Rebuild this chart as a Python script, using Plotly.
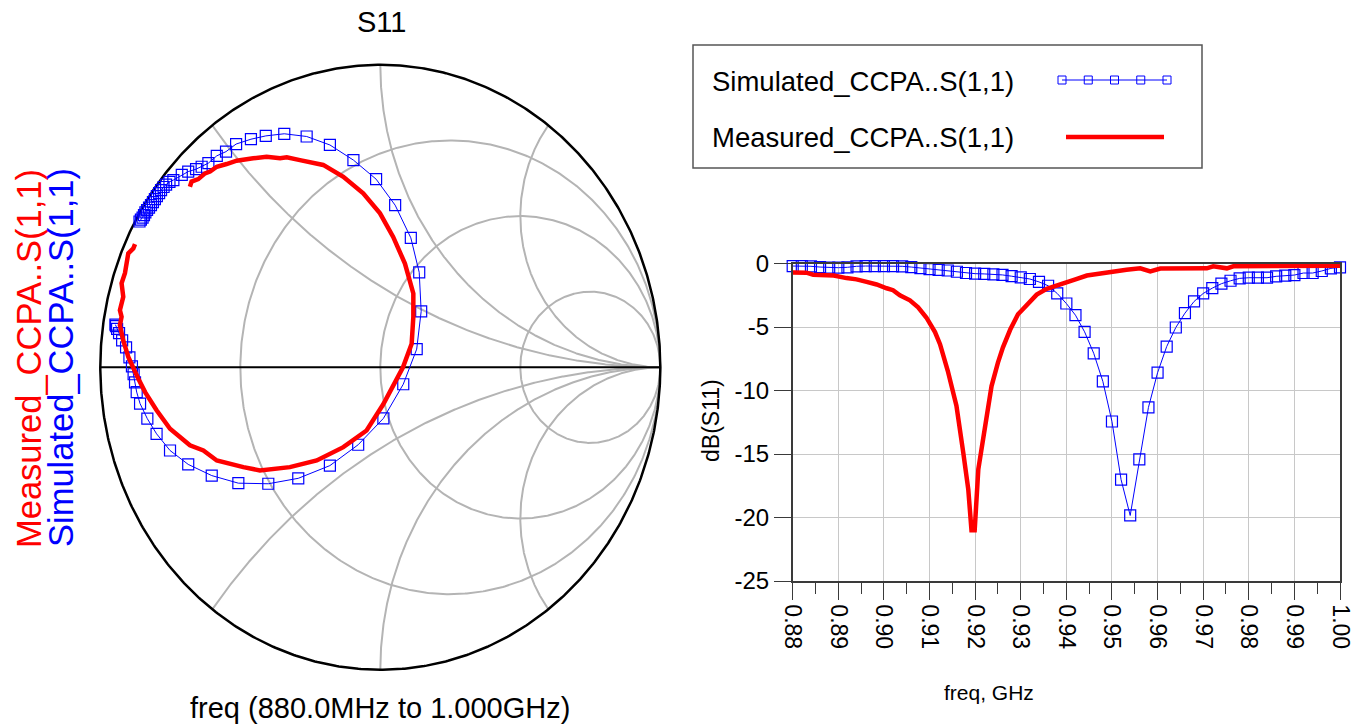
import numpy as np
import plotly.graph_objects as go

W, H = 1361, 728
FONT = "Liberation Sans, Arial, Helvetica, sans-serif"
BLUE = "#0000FF"
RED = "#FF0000"

# ---------------- data ----------------
# Simulated sweep, 0.880 .. 1.000 GHz in 2 MHz steps
sim_freq_ghz = [0.880, 0.882, 0.884, 0.886, 0.888, 0.890, 0.892, 0.894, 0.896, 0.898,
                0.900, 0.902, 0.904, 0.906, 0.908, 0.910, 0.912, 0.914, 0.916, 0.918,
                0.920, 0.922, 0.924, 0.926, 0.928, 0.930, 0.932, 0.934, 0.936, 0.938,
                0.940, 0.942, 0.944, 0.946, 0.948, 0.950, 0.952, 0.954, 0.956, 0.958,
                0.960, 0.962, 0.964, 0.966, 0.968, 0.970, 0.972, 0.974, 0.976, 0.978,
                0.980, 0.982, 0.984, 0.986, 0.988, 0.990, 0.992, 0.994, 0.996, 0.998,
                1.000]

# Simulated S11 as reflection coefficient (real / imaginary part)
sim_gamma_re = [-0.860, -0.855, -0.849, -0.844, -0.839, -0.833, -0.826, -0.819, -0.812, -0.805,
                -0.798, -0.790, -0.783, -0.774, -0.765, -0.753, -0.739, -0.709, -0.686, -0.658,
                -0.638, -0.614, -0.584, -0.551, -0.515, -0.462, -0.409, -0.343, -0.263, -0.180,
                -0.096, -0.015, 0.053, 0.109, 0.139, 0.146, 0.130, 0.082, 0.011, -0.079,
                -0.180, -0.293, -0.400, -0.507, -0.602, -0.686, -0.751, -0.799, -0.832, -0.858,
                -0.870, -0.876, -0.881, -0.887, -0.896, -0.908, -0.922, -0.933, -0.940, -0.944,
                -0.946]
sim_gamma_im = [0.482, 0.488, 0.495, 0.503, 0.512, 0.520, 0.528, 0.536, 0.546, 0.556,
                0.566, 0.576, 0.586, 0.596, 0.604, 0.613, 0.619, 0.636, 0.647, 0.655,
                0.663, 0.675, 0.699, 0.713, 0.738, 0.754, 0.765, 0.772, 0.763, 0.735,
                0.685, 0.622, 0.536, 0.428, 0.314, 0.185, 0.060, -0.056, -0.169, -0.256,
                -0.325, -0.367, -0.385, -0.383, -0.358, -0.321, -0.275, -0.220, -0.170, -0.120,
                -0.082, -0.050, -0.023, 0.003, 0.033, 0.066, 0.089, 0.113, 0.127, 0.136,
                0.141]

# Simulated |S11| in dB
sim_db = [-0.20, -0.20, -0.22, -0.28, -0.33, -0.33, -0.30, -0.22, -0.20, -0.20,
          -0.20, -0.20, -0.22, -0.28, -0.36, -0.45, -0.50, -0.55, -0.65, -0.75,
          -0.80, -0.82, -0.85, -0.90, -1.00, -1.10, -1.22, -1.45, -1.75, -2.36,
          -3.15, -4.07, -5.38, -7.07, -9.28, -12.44, -17.02, -19.84, -15.42, -11.33,
          -8.60, -6.54, -5.04, -3.91, -2.99, -2.36, -1.94, -1.59, -1.36, -1.17,
          -1.12, -1.12, -1.12, -1.01, -0.96, -0.91, -0.75, -0.75, -0.59, -0.38,
          -0.30]

# Measured S11 trace on the Smith chart (reflection coefficient)
meas_gamma_re = [-0.680, -0.674, -0.650, -0.626, -0.608, -0.584, -0.549, -0.513, -0.454, -0.406,
                 -0.358, -0.334, -0.287, -0.204, -0.132, -0.061, -0.001, 0.046, 0.088, 0.118,
                 0.118, 0.112, 0.081, 0.045, 0.010, -0.049, -0.132, -0.227, -0.323, -0.430,
                 -0.489, -0.584, -0.632, -0.680, -0.751, -0.799, -0.840, -0.865, -0.882, -0.900,
                 -0.918, -0.930, -0.924, -0.930, -0.918, -0.924, -0.912, -0.906, -0.900, -0.882,
                 -0.876]
meas_gamma_im = [0.597, 0.614, 0.622, 0.641, 0.647, 0.663, 0.672, 0.683, 0.691, 0.696,
                 0.691, 0.694, 0.685, 0.669, 0.630, 0.575, 0.509, 0.431, 0.343, 0.244,
                 0.167, 0.078, 0.000, -0.060, -0.123, -0.209, -0.264, -0.308, -0.330, -0.341,
                 -0.330, -0.308, -0.275, -0.258, -0.203, -0.142, -0.082, -0.036, 0.000, 0.034,
                 0.089, 0.139, 0.167, 0.189, 0.233, 0.278, 0.311, 0.344, 0.377, 0.393,
                 0.407]

# Measured |S11| in dB
meas_freq_ghz = [0.8800, 0.8830, 0.8845, 0.8890, 0.8918, 0.8940, 0.8962, 0.8984, 0.9006, 0.9020,
                 0.9035, 0.9057, 0.9075, 0.9093, 0.9112, 0.9123, 0.9140, 0.9159, 0.9174, 0.9185,
                 0.9192, 0.9199, 0.9207, 0.9221, 0.9236, 0.9250, 0.9261, 0.9277, 0.9294, 0.9302,
                 0.9320, 0.9335, 0.9357, 0.9380, 0.9401, 0.9420, 0.9445, 0.9470, 0.9496, 0.9532,
                 0.9562, 0.9584, 0.9606, 0.9650, 0.9708, 0.9722, 0.9752, 0.9766, 0.9850, 1.0000]
meas_db = [-0.70, -0.72, -0.88, -0.95, -1.15, -1.25, -1.45, -1.65, -1.95, -2.10,
           -2.50, -2.90, -3.45, -4.25, -5.40, -6.35, -8.45, -11.20, -14.90, -17.80,
           -21.00, -21.00, -16.20, -12.80, -9.65, -7.80, -6.60, -5.20, -4.00, -3.70,
           -2.95, -2.45, -2.00, -1.75, -1.50, -1.25, -0.95, -0.80, -0.70, -0.50,
           -0.38, -0.62, -0.40, -0.38, -0.38, -0.22, -0.38, -0.22, -0.20, -0.17]

# Smith chart grid values
resistance_circles = [1 / 3, 1, 3]
reactance_arcs = [0.5, 1, 2]

# dB axis ticks
db_ticks = [0, -5, -10, -15, -20, -25]
db_tick_labels = ["0", "-5", "-10", "-15", "-20", "-25"]


def px(x):
    return x / W


def py(y):
    return 1 - y / H


fig = go.Figure()

# ---------------- Smith chart grid ----------------
gx, gy = [], []
t = np.linspace(0, 2 * np.pi, 721)
for r in resistance_circles:
    c, rad = r / (1 + r), 1 / (1 + r)
    gx += list(c + rad * np.cos(t)) + [None]
    gy += list(rad * np.sin(t)) + [None]
rr = np.append(np.tan(np.linspace(0, np.pi / 2, 800)[:-1]), 1e7)
for xv in reactance_arcs:
    for sign in (1, -1):
        z = rr + 1j * sign * xv
        g = (z - 1) / (z + 1)
        gx += list(g.real) + [None]
        gy += list(g.imag) + [None]

fig.add_trace(go.Scatter(x=gx, y=gy, mode="lines", line=dict(color="#b4b4b4", width=2),
                         hoverinfo="skip", xaxis="x", yaxis="y"))
fig.add_trace(go.Scatter(x=[-1, 1], y=[0, 0], mode="lines", line=dict(color="black", width=2),
                         hoverinfo="skip", xaxis="x", yaxis="y"))
fig.add_trace(go.Scatter(x=np.cos(t), y=np.sin(t), mode="lines", line=dict(color="black", width=2.5),
                         hoverinfo="skip", xaxis="x", yaxis="y"))

# Smith chart curves
fig.add_trace(go.Scatter(x=sim_gamma_re, y=sim_gamma_im, mode="lines+markers",
                         line=dict(color=BLUE, width=1),
                         marker=dict(symbol="square-open", size=11, color=BLUE, line=dict(width=1.2)),
                         xaxis="x", yaxis="y", cliponaxis=False))
fig.add_trace(go.Scatter(x=meas_gamma_re, y=meas_gamma_im, mode="lines",
                         line=dict(color=RED, width=4.5), xaxis="x", yaxis="y"))

# ---------------- dB(S11) vs frequency ----------------
fig.add_trace(go.Scatter(x=sim_freq_ghz, y=sim_db, mode="lines+markers",
                         line=dict(color=BLUE, width=1),
                         marker=dict(symbol="square-open", size=11, color=BLUE, line=dict(width=1.2)),
                         xaxis="x2", yaxis="y2", cliponaxis=False))
fig.add_trace(go.Scatter(x=meas_freq_ghz, y=meas_db, mode="lines",
                         line=dict(color=RED, width=4.5), xaxis="x2", yaxis="y2", cliponaxis=False))

AX = "#3a3a3a"
GRID = "#c8c8c8"

fig.update_layout(
    width=W, height=H,
    margin=dict(l=0, r=0, t=0, b=0, pad=0, autoexpand=False),
    paper_bgcolor="white", plot_bgcolor="white",
    showlegend=False,
    font=dict(family=FONT, color="black"),
    xaxis=dict(domain=[0.06958, 0.48927], range=[-1.02, 1.02], visible=False,
               fixedrange=True, automargin=False),
    yaxis=dict(domain=[0.07165, 0.91929], range=[-1.02, 1.02], visible=False,
               fixedrange=True, automargin=False),
    xaxis2=dict(domain=[px(792.7), px(1340)], range=[0.88, 1.0], anchor="y2", automargin=False,
                tick0=0.88, dtick=0.01, tickformat=".2f", tickangle=90,
                ticks="outside", ticklen=17, tickcolor=AX, tickwidth=1.3,
                showline=True, mirror=True, linecolor=AX, linewidth=1.5,
                showgrid=True, gridcolor=GRID, gridwidth=1.3, zeroline=False,
                tickfont=dict(size=23, family=FONT, color="black"),
                minor=dict(tick0=0.885, dtick=0.01, ticks="outside", ticklen=11,
                           tickcolor=AX, tickwidth=1.3, showgrid=False)),
    yaxis2=dict(domain=[py(581), py(263.5)], range=[-25, 0], anchor="x2", automargin=False,
                tickvals=db_ticks, ticktext=db_tick_labels,
                ticks="outside", ticklen=17, tickcolor=AX, tickwidth=1.3,
                showline=True, mirror=True, linecolor=AX, linewidth=1.5,
                showgrid=True, gridcolor=GRID, gridwidth=1.3, zeroline=False,
                tickfont=dict(size=24, family=FONT, color="black")),
)

# ---------------- text ----------------
ann = [
    dict(text="S11", x=px(381), y=py(22), size=29, color="black", angle=0),
    dict(text="freq (880.0MHz to 1.000GHz)", x=px(380), y=py(708), size=29, color="black", angle=0),
    dict(text="Measured_CCPA..S(1,1)", x=px(29), y=py(359), size=34.5, color=RED, angle=-90),
    dict(text="Simulated_CCPA..S(1,1)", x=px(61), y=py(358), size=34.5, color=BLUE, angle=-90),
    dict(text="dB(S11)", x=px(711), y=py(421), size=23, color="black", angle=-90),
    dict(text="freq, GHz", x=px(989), y=py(692), size=21, color="black", angle=0),
]
for a in ann:
    fig.add_annotation(text=a["text"], x=a["x"], y=a["y"], xref="paper", yref="paper",
                       xanchor="center", yanchor="middle", showarrow=False, textangle=a["angle"],
                       font=dict(size=a["size"], color=a["color"], family=FONT))

# legend box
fig.add_shape(type="rect", xref="paper", yref="paper", x0=px(693), x1=px(1202), y0=py(168), y1=py(45),
              line=dict(color="#555555", width=1.5), fillcolor="rgba(0,0,0,0)")
for label, yy in (("Simulated_CCPA..S(1,1)", 81), ("Measured_CCPA..S(1,1)", 137)):
    fig.add_annotation(text=label, x=px(710), y=py(yy), xref="paper", yref="paper",
                       xanchor="left", yanchor="middle", showarrow=False,
                       font=dict(size=27.5, color="black", family=FONT))

# legend swatches
fig.add_shape(type="line", xref="paper", yref="paper", x0=px(1062), x1=px(1167), y0=py(80), y1=py(80),
              line=dict(color=BLUE, width=1))
for cx in np.linspace(1062, 1167, 5):
    fig.add_shape(type="rect", xref="paper", yref="paper", x0=px(cx - 4), x1=px(cx + 4),
                  y0=py(84), y1=py(76), line=dict(color=BLUE, width=1), fillcolor="rgba(0,0,0,0)")
fig.add_shape(type="line", xref="paper", yref="paper", x0=px(1066), x1=px(1164), y0=py(137), y1=py(137),
              line=dict(color=RED, width=4.5))

fig.write_html("out.html")
